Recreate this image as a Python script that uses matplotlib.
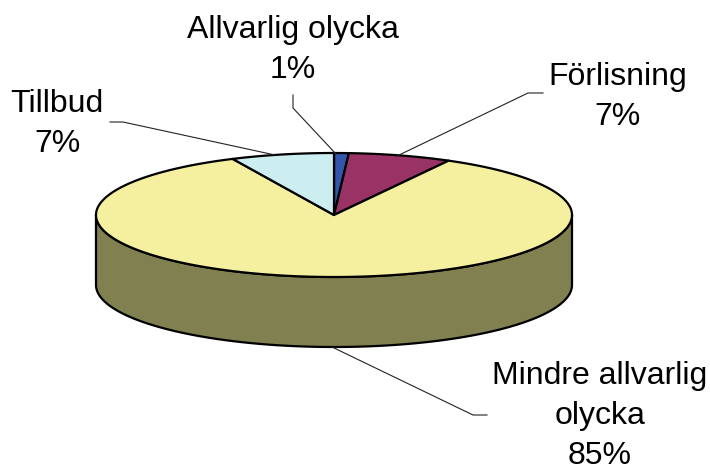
import matplotlib.pyplot as plt
import numpy as np
from matplotlib.patches import Polygon

plt.rcParams['font.family'] = ['Liberation Sans', 'DejaVu Sans']

# data, clockwise from 12 o'clock
labels = ["Allvarlig olycka", "Förlisning", "Mindre allvarlig\nolycka", "Tillbud"]
pct = [1, 7, 85, 7]
top_colors = ["#3355aa", "#993366", "#f5f0a0", "#cceef0"]
side_color = "#808050"

# pie geometry in pixels (y down)
cx, cy, rx, ry, depth = 334, 215, 238, 62, 70

# label placement: centre x, first baseline y
label_pos = [(293, 38), (618, 85), (600, 384), (57, 112)]
line_step = 40
leaders = [
    [(293, 95), (293, 108), (336, 154)],
    [(543, 93), (528, 93), (397, 156)],
    [(487, 415), (473, 415), (332, 347)],
    [(110, 122), (123, 122), (275, 155)],
]


def pt(theta, dy=0.0):
    t = np.radians(theta)
    return np.column_stack([cx + rx * np.cos(t), cy - ry * np.sin(t) + dy])


fig = plt.figure(figsize=(7.10, 4.71), dpi=100)
ax = fig.add_axes([0, 0, 1, 1])
ax.set_xlim(0, 710)
ax.set_ylim(471, 0)
ax.axis("off")

# front side (only the big slice shows it)
th = np.linspace(180, 360, 200)
side = np.vstack([pt(th), pt(th[::-1], depth)])
ax.add_patch(Polygon(side, closed=True, facecolor=side_color,
                     edgecolor="black", lw=1.6, joinstyle="round"))

# top face
start = 90.0
for p, col in zip(pct, top_colors):
    end = start - 360.0 * p / 100.0
    th = np.linspace(start, end, max(int(abs(start - end) * 2), 4))
    poly = np.vstack([[cx, cy], pt(th)])
    ax.add_patch(Polygon(poly, closed=True, facecolor=col,
                         edgecolor="black", lw=1.6, joinstyle="round"))
    start = end

# leader lines and labels
for lab, p, (x, y), ln in zip(labels, pct, label_pos, leaders):
    ln = np.array(ln)
    ax.plot(ln[:, 0], ln[:, 1], color="#222222", lw=0.8)
    lines = lab.split("\n") + [f"{p}%"]
    for i, s in enumerate(lines):
        ax.text(x, y + i * line_step, s, ha="center", va="baseline",
                fontsize=23, color="black")

fig.savefig("out.png", dpi=100)
